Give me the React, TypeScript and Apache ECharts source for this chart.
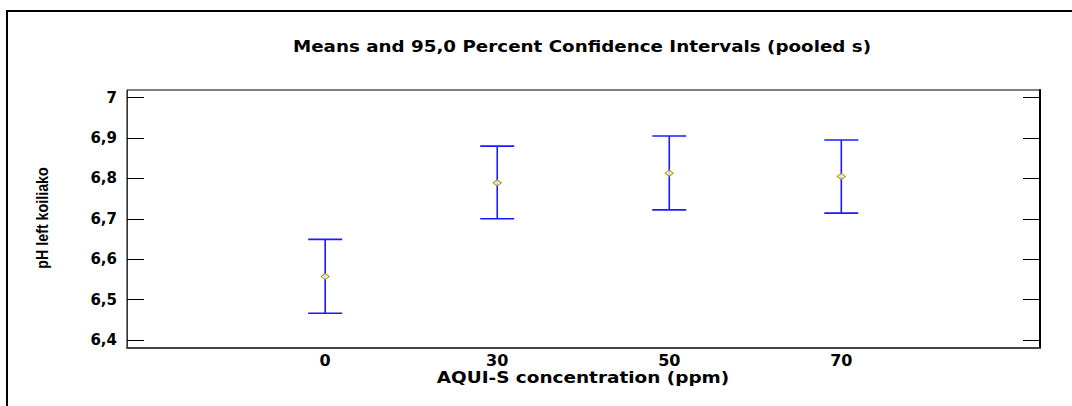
import React, { useEffect, useRef } from "react";
import * as echarts from "echarts";

// Groups of AQUI-S concentration (ppm) and their pooled-s 95% intervals
const groups = ["0", "30", "50", "70"];
const means = [6.557, 6.789, 6.813, 6.805];
const lowers = [6.466, 6.700, 6.722, 6.714];
const uppers = [6.649, 6.880, 6.905, 6.895];
const yTicks = [6.4, 6.5, 6.6, 6.7, 6.8, 6.9, 7];

const BOLD = "'DejaVu Sans', sans-serif";

export default function App() {
  const ref = useRef<HTMLDivElement>(null);

  useEffect(() => {
    if (!ref.current) return;
    const chart = echarts.init(ref.current, undefined, { renderer: "svg" });

    const idx = groups.map((_, i) => i);
    const barData = idx.map((i) => [i, lowers[i], uppers[i]]);
    const meanData = idx.map((i) => [i, means[i]]);
    const fmt = (v: number) => String(Math.round(v * 10) / 10).replace(".", ",");

    chart.setOption({
      animation: false,
      backgroundColor: "#ffffff",
      graphic: [
        {
          type: "rect",
          shape: { x: 7, y: 11, width: 1100, height: 500 },
          style: { fill: "none", stroke: "#000", lineWidth: 2 },
          silent: true,
        },
        {
          type: "text",
          x: 582,
          y: 47,
          scaleX: 1.22,
          style: {
            text: "Means and 95,0 Percent Confidence Intervals (pooled s)",
            fontFamily: BOLD,
            fontWeight: "bold",
            fontSize: 15,
            fill: "#000",
            align: "center",
            verticalAlign: "middle",
          },
          silent: true,
        },
        {
          type: "text",
          x: 583,
          y: 378,
          scaleX: 1.23,
          style: {
            text: "AQUI-S concentration (ppm)",
            fontFamily: BOLD,
            fontWeight: "bold",
            fontSize: 15,
            fill: "#000",
            align: "center",
            verticalAlign: "middle",
          },
          silent: true,
        },
        {
          // condensed vertical axis title
          type: "text",
          x: 42,
          y: 218,
          rotation: Math.PI / 2,
          scaleX: 0.84,
          style: {
            text: "pH left koiliako",
            fontFamily: "'Liberation Sans', Arial, sans-serif",
            fontWeight: "bold",
            fontSize: 17,
            fill: "#000",
            align: "center",
            verticalAlign: "middle",
          },
          silent: true,
        },
      ],
      grid: {
        left: 127,
        top: 90,
        right: 32,
        bottom: 58,
        show: true,
        borderColor: "#000",
        borderWidth: 1,
      },
      xAxis: {
        type: "value",
        min: -1.152,
        max: 4.155,
        splitLine: { show: false },
        axisLine: { show: true, onZero: false, lineStyle: { color: "#444", width: 2 } },
        axisTick: { show: false },
        axisLabel: {
          customValues: idx,
          formatter: (v: number) => groups[Math.round(v)] ?? "",
          fontFamily: BOLD,
          fontWeight: "bold",
          fontSize: 16,
          color: "#000",
          margin: 4,
        },
      },
      yAxis: [
        {
          type: "value",
          min: 6.38,
          max: 7.019,
          splitLine: { show: false },
          axisLine: { show: true, onZero: false, lineStyle: { color: "#333", width: 1 } },
          axisTick: { show: true, inside: true, length: 17, customValues: yTicks, lineStyle: { color: "#000", width: 1 } },
          axisLabel: {
            customValues: yTicks,
            formatter: fmt,
            fontFamily: BOLD,
            fontWeight: "bold",
            fontSize: 15,
            color: "#000",
            margin: 10,
          },
        },
        {
          type: "value",
          position: "right",
          min: 6.38,
          max: 7.019,
          splitLine: { show: false },
          axisLine: { show: true, onZero: false, lineStyle: { color: "#000", width: 2 } },
          axisTick: { show: true, inside: true, length: 17, customValues: yTicks, lineStyle: { color: "#000", width: 1 } },
          axisLabel: { show: false },
        },
      ],
      series: [
        {
          type: "custom",
          name: "interval",
          data: barData,
          encode: { x: 0, y: [1, 2] },
          renderItem: (params: any, api: any) => {
            const x = api.value(0);
            const lo = api.coord([x, api.value(1)]);
            const hi = api.coord([x, api.value(2)]);
            const half = 17;
            const style = { stroke: "#1a1aff", lineWidth: 1.6 };
            return {
              type: "group",
              children: [
                { type: "line", shape: { x1: lo[0], y1: lo[1], x2: hi[0], y2: hi[1] }, style },
                { type: "line", shape: { x1: hi[0] - half, y1: hi[1], x2: hi[0] + half, y2: hi[1] }, style },
                { type: "line", shape: { x1: lo[0] - half, y1: lo[1], x2: lo[0] + half, y2: lo[1] }, style },
              ],
            };
          },
          z: 2,
        },
        {
          type: "scatter",
          name: "mean",
          data: meanData,
          symbol: "diamond",
          symbolSize: [8, 6],
          itemStyle: { color: "#ffffff", borderColor: "#9a9400", borderWidth: 1.3 },
          z: 3,
        },
      ],
    });

    return () => chart.dispose();
  }, []);

  return (
    <div
      ref={ref}
      style={{ position: "absolute", left: 0, top: 0, width: 1072, height: 406 }}
    />
  );
}
